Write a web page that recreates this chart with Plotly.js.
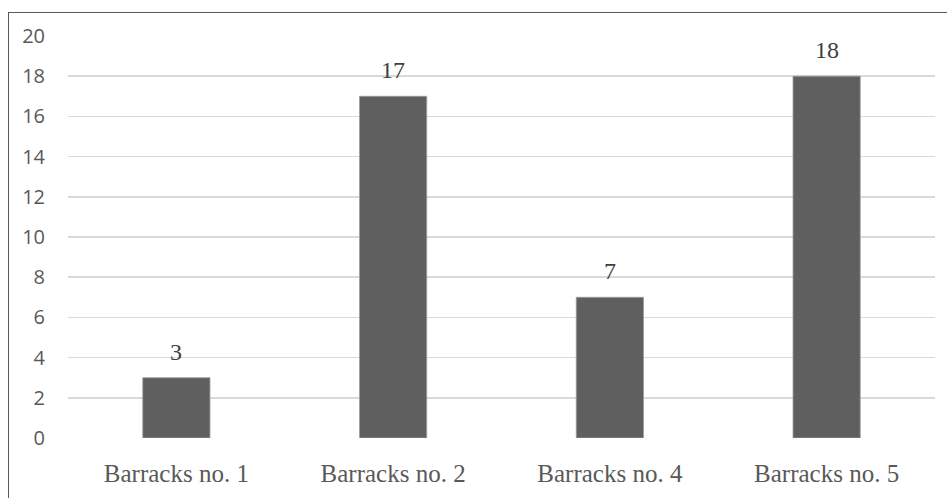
<!DOCTYPE html>
<html>
<head>
<meta charset="utf-8">
<script src="https://cdn.plot.ly/plotly-3.0.1.min.js"></script>
<style>
  html, body { margin: 0; padding: 0; background: #fff; }
  #wrap { position: relative; width: 947px; height: 498px; overflow: hidden; }
  #chart { width: 947px; height: 498px; }
  #frame { position: absolute; left: 8px; top: 12px; right: -10px; bottom: -10px;
           border-top: 1.5px solid #5a5a5a; border-left: 1.5px solid #5a5a5a; pointer-events: none; }
</style>
</head>
<body>
<div id="wrap">
  <div id="chart"></div>
  <div id="frame"></div>
</div>
<script>
const categories = ["Barracks no. 1", "Barracks no. 2", "Barracks no. 4", "Barracks no. 5"];
const values = [3, 17, 7, 18];
const yTicks = [0, 2, 4, 6, 8, 10, 12, 14, 16, 18, 20];

const serif = "'Liberation Serif', 'DejaVu Serif', serif";
const sans = "'Open Sans', 'Noto Sans', sans-serif";

const trace = {
  type: "bar",
  x: categories,
  y: values,
  marker: { color: "#5f5f5f", line: { color: "#9a9a9a", width: 0.8 } },
  hoverinfo: "none"
};

const annotations = categories.map((c, i) => ({
  x: c, y: values[i], xref: "x", yref: "y",
  text: String(values[i]), showarrow: false,
  yanchor: "bottom", yshift: 11,
  font: { family: serif, size: 24, color: "#404040" }
}));

const layout = {
  width: 947, height: 498,
  margin: { l: 68, r: 12, t: 36, b: 60 },
  paper_bgcolor: "#fff", plot_bgcolor: "#fff",
  showlegend: false,
  bargap: 0.69,
  xaxis: {
    type: "category",
    showgrid: false, zeroline: false, showline: false,
    ticks: "", ticklabelstandoff: 18,
    tickfont: { family: serif, size: 25, color: "#595959" }
  },
  yaxis: {
    range: [0, 20], tickvals: yTicks, ticktext: yTicks.map(String),
    showgrid: true, gridcolor: "#d9d9d9", gridwidth: 1.5,
    zeroline: false, showline: false, ticks: "",
    ticklabelstandoff: 22,
    tickfont: { family: sans, size: 20, color: "#595959" }
  },
  annotations: annotations
};

Plotly.newPlot("chart", [trace], layout, { displayModeBar: false, staticPlot: true });
</script>
</body>
</html>
